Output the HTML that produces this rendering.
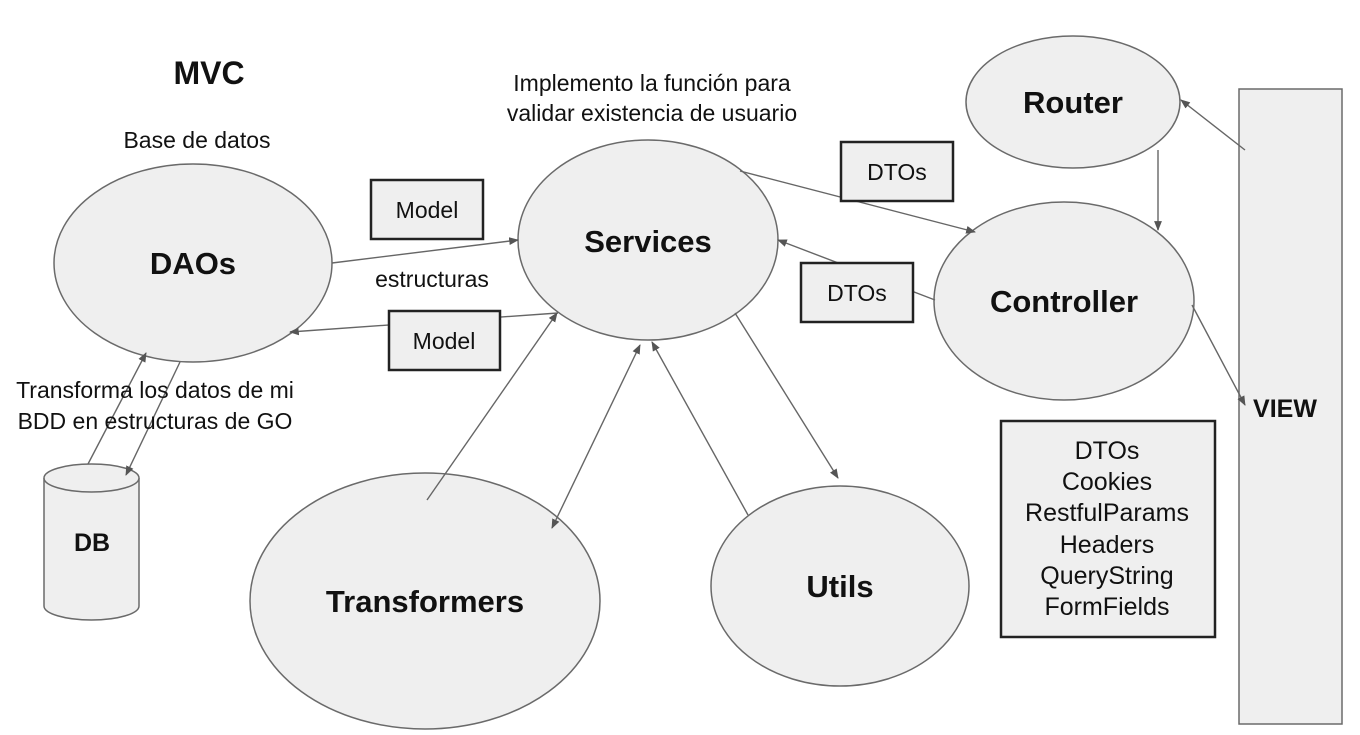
<!DOCTYPE html>
<html><head><meta charset="utf-8"><style>
html,body{margin:0;padding:0;background:#fff;}
svg{display:block;}
text{font-family:"Liberation Sans",Arial,sans-serif;}
.b{font-weight:bold;fill:#111;}
.t{font-size:23px;fill:#111;}
</style></head><body>
<svg width="1360" height="735" viewBox="0 0 1360 735" xmlns="http://www.w3.org/2000/svg">
<defs>
<marker id="a" viewBox="0 0 10 10" refX="9" refY="5" markerWidth="7" markerHeight="7" orient="auto-start-reverse">
<path d="M0,1 L10,5 L0,9 z" fill="#555"/></marker>
</defs>
<g fill="#efefef" stroke="#6a6a6a" stroke-width="1.5">
<ellipse cx="193" cy="263" rx="139" ry="99"/>
<ellipse cx="648" cy="240" rx="130" ry="100"/>
<ellipse cx="1073" cy="102" rx="107" ry="66"/>
<ellipse cx="1064" cy="301" rx="130" ry="99"/>
<ellipse cx="425" cy="601" rx="175" ry="128"/>
<ellipse cx="840" cy="586" rx="129" ry="100"/>
<rect x="1239" y="89" width="103" height="635"/>
<path d="M44,478 L44,606 A47.5,14 0 0 0 139,606 L139,478"/>
<ellipse cx="91.5" cy="478" rx="47.5" ry="14"/>
</g>
<g stroke="#666" stroke-width="1.4" fill="none">
<line x1="332" y1="263" x2="518" y2="240" marker-end="url(#a)"/>
<line x1="558" y1="313" x2="290" y2="332" marker-end="url(#a)"/>
<line x1="88" y1="464" x2="146" y2="353" marker-end="url(#a)"/>
<line x1="180" y1="362" x2="126" y2="475" marker-end="url(#a)"/>
<line x1="427" y1="500" x2="557" y2="313" marker-end="url(#a)"/>
<line x1="640" y1="345" x2="552" y2="528" marker-start="url(#a)" marker-end="url(#a)"/>
<line x1="748" y1="515" x2="652" y2="342" marker-end="url(#a)"/>
<line x1="735" y1="313" x2="838" y2="478" marker-end="url(#a)"/>
<line x1="740" y1="171" x2="975" y2="232" marker-end="url(#a)"/>
<line x1="935" y1="300" x2="778" y2="240" marker-end="url(#a)"/>
<line x1="1245" y1="150" x2="1181" y2="100" marker-end="url(#a)"/>
<line x1="1158" y1="150" x2="1158" y2="230" marker-end="url(#a)"/>
<line x1="1192" y1="305" x2="1245" y2="405" marker-end="url(#a)"/>
</g>
<g fill="#efefef" stroke="#222" stroke-width="2.5">
<rect x="371" y="180" width="112" height="59"/>
<rect x="389" y="311" width="111" height="59"/>
<rect x="841" y="142" width="112" height="59"/>
<rect x="801" y="263" width="112" height="59"/>
<rect x="1001" y="421" width="214" height="216"/>
</g>
<g text-anchor="middle">
<text x="209" y="84" class="b" font-size="32">MVC</text>
<text x="197" y="148" class="t">Base de datos</text>
<text x="652" y="91" class="t">Implemento la función para</text>
<text x="652" y="121" class="t">validar existencia de usuario</text>
<text x="432" y="287" class="t">estructuras</text>
<text x="155" y="398" class="t">Transforma los datos de mi</text>
<text x="155" y="429" class="t">BDD en estructuras de GO</text>
<text x="193" y="274" class="b" font-size="31">DAOs</text>
<text x="648" y="252" class="b" font-size="31">Services</text>
<text x="1073" y="113" class="b" font-size="31">Router</text>
<text x="1064" y="312" class="b" font-size="31">Controller</text>
<text x="425" y="612" class="b" font-size="31">Transformers</text>
<text x="840" y="597" class="b" font-size="31">Utils</text>
<text x="92" y="551" class="b" font-size="25">DB</text>
<text x="1285" y="417" class="b" font-size="25">VIEW</text>
<text x="427" y="218" class="t" font-size="25">Model</text>
<text x="444" y="349" class="t" font-size="25">Model</text>
<text x="897" y="180" class="t" font-size="25">DTOs</text>
<text x="857" y="301" class="t" font-size="25">DTOs</text>
<g font-size="25" fill="#111">
<text x="1107" y="459">DTOs</text>
<text x="1107" y="490">Cookies</text>
<text x="1107" y="521">RestfulParams</text>
<text x="1107" y="553">Headers</text>
<text x="1107" y="584">QueryString</text>
<text x="1107" y="615">FormFields</text>
</g>
</g>
</svg>
</body></html>
